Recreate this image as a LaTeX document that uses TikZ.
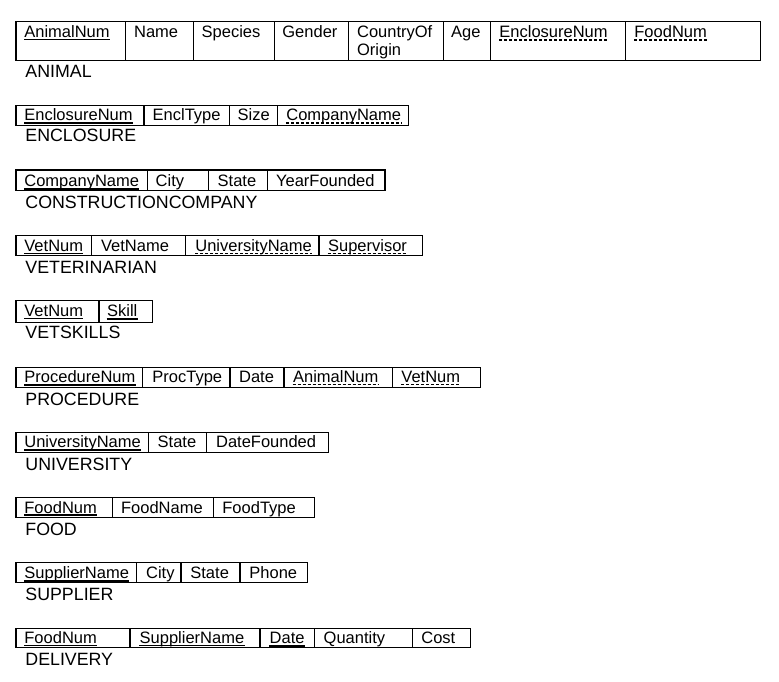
\documentclass[tikz,border=0pt]{standalone}
\usepackage{fontspec}
\setmainfont{Liberation Sans}
\usepackage{tikz}
\newcommand\hdr{\fontsize{8.25}{9}\selectfont}
\newcommand\tname{\fontsize{8.9}{10}\selectfont}

\begin{document}
\begin{tikzpicture}[x=0.5pt,y=-0.5pt,
  cell/.style={black,line width=0.6pt},
  attr/.style={inner sep=0pt,anchor=base west,font=\hdr},
  rel/.style={inner sep=0pt,anchor=base west,font=\tname},
  pk/.style={black,line width=1pt},
  pkthin/.style={black,line width=0.5pt},
  fk/.style={black,line width=0.65pt,dash pattern=on 1.5pt off 1pt},
  nokey/.style={draw=none}]

\useasboundingbox (0,0) rectangle (779,681);

% ANIMAL
\draw[cell] (16,21.5) rectangle (760.7,60.3);
\foreach \x in {125.3,193.3,274.3,348.3,443.3,490.3,625.3} \draw[cell] (\x,21.5)--(\x,60.3);
\foreach \n/\x/\u/\t in {an1/24/pkthin/AnimalNum, an2/133.7/nokey/Name, an3/201.3/nokey/Species,
    an4/282/nokey/Gender, an6/450.7/nokey/Age, an7/499/fk/EnclosureNum, an8/634/fk/FoodNum} {
  \node[attr] (\n) at (\x,37.7) {\t};
  \draw[\u] ([yshift=-1.1pt]\n.base west)--([yshift=-1.1pt]\n.base east);
}
% base of a two-line node is its last line
\node[attr,align=left] (an5) at (356.7,55.7) {CountryOf\\Origin};
\node[rel] (animal) at (25,77.3) {ANIMAL};

% ENCLOSURE
\draw[cell] (16,105.3) rectangle (408.7,125.3);
\foreach \x in {144,229.3,277.3} \draw[cell] (\x,105.3)--(\x,125.3);
\foreach \n/\x/\u/\t in {en1/24/pk/EnclosureNum, en2/152.3/nokey/EnclType, en3/237.3/nokey/Size,
    en4/286/fk/CompanyName} {
  \node[attr] (\n) at (\x,120.9) {\t};
  \draw[\u] ([yshift=-1.1pt]\n.base west)--([yshift=-1.1pt]\n.base east);
}
\node[rel] (enclosure) at (25,141.7) {ENCLOSURE};

% CONSTRUCTIONCOMPANY
\draw[cell] (16,170) rectangle (385,190.7);
\foreach \x in {147.3,208.3,267.3} \draw[cell] (\x,170)--(\x,190.7);
\foreach \n/\x/\u/\t in {cc1/24/pk/CompanyName, cc2/155.3/nokey/City, cc3/217.3/nokey/State,
    cc4/275.7/nokey/YearFounded} {
  \node[attr] (\n) at (\x,186.3) {\t};
  \draw[\u] ([yshift=-1.1pt]\n.base west)--([yshift=-1.1pt]\n.base east);
}
\node[rel] (company) at (25,208.3) {CONSTRUCTIONCOMPANY};

% VETERINARIAN
\draw[cell] (16,235.3) rectangle (422.7,255.7);
\foreach \x in {91.7,185.7,319} \draw[cell] (\x,235.3)--(\x,255.7);
\foreach \n/\x/\u/\t in {vt1/24/pkthin/VetNum, vt2/100.7/nokey/VetName, vt3/195/fk/UniversityName,
    vt4/327.7/fk/Supervisor} {
  \node[attr] (\n) at (\x,251) {\t};
  \draw[\u] ([yshift=-1.1pt]\n.base west)--([yshift=-1.1pt]\n.base east);
}
\node[rel] (vet) at (25,273.3) {VETERINARIAN};

% VETSKILLS
\draw[cell] (16,300.3) rectangle (152.3,322.3);
\draw[cell] (99,300.3)--(99,322.3);
\foreach \n/\x/\u/\t in {vs1/24/pkthin/VetNum, vs2/106.7/pk/Skill} {
  \node[attr] (\n) at (\x,316.7) {\t};
  \draw[\u] ([yshift=-1.1pt]\n.base west)--([yshift=-1.1pt]\n.base east);
}
\node[rel] (vetskills) at (25,338.3) {VETSKILLS};

% PROCEDURE
\draw[cell] (16,367.3) rectangle (480.7,387.3);
\foreach \x in {142.7,230,284,392.7} \draw[cell] (\x,367.3)--(\x,387.3);
\foreach \n/\x/\u/\t in {pr1/24/pk/ProcedureNum, pr2/152/nokey/ProcType, pr3/238.7/nokey/Date,
    pr4/292.7/fk/AnimalNum, pr5/401/fk/VetNum} {
  \node[attr] (\n) at (\x,382.5) {\t};
  \draw[\u] ([yshift=-1.1pt]\n.base west)--([yshift=-1.1pt]\n.base east);
}
\node[rel] (procedure) at (25,405) {PROCEDURE};

% UNIVERSITY
\draw[cell] (16,432.3) rectangle (328.3,452.7);
\foreach \x in {148.3,206.7} \draw[cell] (\x,432.3)--(\x,452.7);
\foreach \n/\x/\u/\t in {un1/24/pk/UniversityName, un2/157.3/nokey/State, un3/215.7/nokey/DateFounded} {
  \node[attr] (\n) at (\x,447.5) {\t};
  \draw[\u] ([yshift=-1.1pt]\n.base west)--([yshift=-1.1pt]\n.base east);
}
\node[rel] (university) at (25,470) {UNIVERSITY};

% FOOD
\draw[cell] (16,497.3) rectangle (314.3,517.7);
\foreach \x in {112.3,213.3} \draw[cell] (\x,497.3)--(\x,517.7);
\foreach \n/\x/\u/\t in {fd1/24/pk/FoodNum, fd2/120.7/nokey/FoodName, fd3/222/nokey/FoodType} {
  \node[attr] (\n) at (\x,513) {\t};
  \draw[\u] ([yshift=-1.1pt]\n.base west)--([yshift=-1.1pt]\n.base east);
}
\node[rel] (food) at (25,535) {FOOD};

% SUPPLIER
\draw[cell] (16,562.3) rectangle (307.3,582.3);
\foreach \x in {136.3,181,240} \draw[cell] (\x,562.3)--(\x,582.3);
\foreach \n/\x/\u/\t in {sp1/24/pk/SupplierName, sp2/145.7/nokey/City, sp3/190/nokey/State,
    sp4/249/nokey/Phone} {
  \node[attr] (\n) at (\x,578.3) {\t};
  \draw[\u] ([yshift=-1.1pt]\n.base west)--([yshift=-1.1pt]\n.base east);
}
\node[rel] (supplier) at (25,600) {SUPPLIER};

% DELIVERY
\draw[cell] (16,628.3) rectangle (470.7,647.3);
\foreach \x in {130,260,314.3,412.7} \draw[cell] (\x,628.3)--(\x,647.3);
\foreach \n/\x/\u/\t in {dl1/24/pkthin/FoodNum, dl2/139.3/pkthin/SupplierName, dl3/269.3/pk/Date,
    dl4/323.3/nokey/Quantity, dl5/421/nokey/Cost} {
  \node[attr] (\n) at (\x,643.3) {\t};
  \draw[\u] ([yshift=-1.1pt]\n.base west)--([yshift=-1.1pt]\n.base east);
}
\node[rel] (delivery) at (25,665) {DELIVERY};

\end{tikzpicture}
\end{document}
